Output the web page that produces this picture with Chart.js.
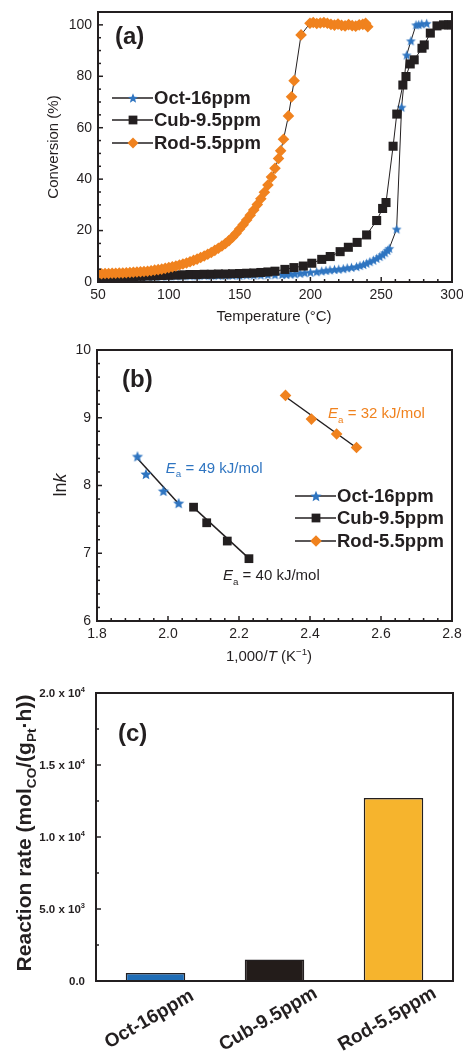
<!DOCTYPE html>
<html>
<head>
<meta charset="utf-8">
<script src="https://cdn.jsdelivr.net/npm/chart.js@4.4.1/dist/chart.umd.min.js"></script>
<style>
  html, body { margin: 0; padding: 0; background: #fff; }
  body { width: 463px; height: 1055px; position: relative; overflow: hidden; }
  .box { position: absolute; left: 0; width: 463px; }
</style>
</head>
<body>
<div class="box" style="top:0;height:330px"><canvas id="chartA"></canvas></div>
<div class="box" style="top:330px;height:335px"><canvas id="chartB"></canvas></div>
<div class="box" style="top:665px;height:390px"><canvas id="chartC"></canvas></div>
<script>
// ---- (a) light-off curves: temperature (°C) vs CO conversion (%)
const octT = [50, 55, 60, 65, 70, 75, 80, 85, 90, 95, 100, 105, 110, 115, 120, 125, 130, 135, 140, 145, 150, 155, 160, 165, 170, 175, 180,
  183, 186, 189, 192.7, 196, 200, 204.4, 208, 211, 213.8, 217, 220, 223.2, 226, 229, 232.6, 235, 237.5, 239.7, 242, 244.5, 246.8, 249, 251,
  252.7, 254.5, 255.7, 260.9, 264.4, 268, 271, 274.6, 276.5, 278.6, 282.1];
const octConv = [1.8, 1.8, 1.9, 1.9, 2.0, 2.0, 2.1, 2.1, 2.2, 2.2, 2.3, 2.3, 2.4, 2.4, 2.4, 2.5, 2.5, 2.5, 2.6, 2.6, 2.6, 2.7, 2.7, 2.7, 2.8, 2.8, 2.9,
  2.9, 3.1, 3.2, 3.4, 3.6, 3.8, 4.0, 4.3, 4.5, 4.7, 4.9, 5.0, 5.2, 5.5, 5.7, 6.0, 6.4, 6.8, 7.3, 7.9, 8.5, 9.2, 9.9, 10.6,
  11.4, 12.3, 13.1, 20.6, 68.0, 88.3, 93.8, 100.0, 100.1, 100.4, 100.6];

const cubT = [50, 55, 60, 65, 70, 75, 80, 85, 90, 95, 100, 105, 110, 115, 120, 125, 130, 135, 140, 145, 150, 155, 160, 165, 170, 175,
  182, 188.4, 195, 201, 208, 214, 221, 226.8, 233, 239.7, 246.8, 251, 253.4, 258.4, 261, 265.3, 267.5, 270.5, 273.3, 278.8, 280.4,
  284.7, 289.4, 294, 297.6, 300];
const cubConv = [1.6, 1.7, 1.8, 1.9, 2.0, 2.1, 2.2, 2.3, 2.4, 2.5, 2.6, 2.7, 2.8, 2.9, 2.9, 3.0, 3.0, 3.1, 3.1, 3.2, 3.3, 3.4, 3.5, 3.7, 3.9, 4.2,
  4.9, 5.6, 6.2, 7.3, 8.8, 9.9, 11.8, 13.5, 15.4, 18.3, 23.9, 28.6, 30.9, 52.8, 65.3, 76.6, 79.9, 84.8, 86.4, 90.9, 92.2,
  96.8, 99.6, 100, 100, 100];

const rodT = [50, 52.5, 55, 57.5, 60, 62.5, 65, 67.5, 70, 72.5, 75, 77.5, 80, 82.5, 85, 87.5, 90, 92.5, 95, 97.5, 100, 102.5, 105, 107.5,
  110, 112.5, 115, 117.5, 120, 122.5, 125, 127.5, 130, 132.5, 135, 137.5, 140, 142.5, 145, 147.5, 150, 152.5, 155, 157.5, 160, 162.5,
  165, 167.5, 170, 172.5, 175, 177.5, 179, 181, 184.5, 186.7, 188.5, 193.4, 199.7, 202, 204.5, 207, 209.5, 212, 214.5, 217, 219.5,
  222, 224.5, 227, 229.5, 232, 234.5, 237, 239, 240.5];
const rodConv = [3.2, 3.2, 3.3, 3.3, 3.4, 3.4, 3.5, 3.5, 3.6, 3.7, 3.8, 3.9, 4.0, 4.1, 4.2, 4.4, 4.6, 4.8, 5.0, 5.3, 5.6, 5.9, 6.2, 6.6,
  7.0, 7.4, 7.9, 8.4, 8.9, 9.5, 10.1, 10.8, 11.5, 12.3, 13.1, 14.0, 15.0, 16.1, 17.4, 18.9, 20.6, 22.3, 24.1, 26.0, 28.0, 30.1,
  32.4, 34.9, 37.7, 40.8, 44.2, 48.0, 51.0, 55.5, 64.6, 72.0, 78.3, 96.1, 100.6, 100.9, 100.5, 100.7, 100.9, 100.6, 100.2, 99.9, 100.3,
  99.8, 99.6, 100.1, 99.7, 99.5, 100.0, 100.2, 100.6, 99.3];

// ---- (b) Arrhenius plot: 1000/T vs ln k, with fitted lines
const octInvT = [1.914, 1.938, 1.987, 2.030];
const octLnK = [8.43, 8.17, 7.92, 7.74];
const cubInvT = [2.072, 2.109, 2.167, 2.228];
const cubLnK = [7.68, 7.45, 7.18, 6.92];
const rodInvT = [2.331, 2.404, 2.475, 2.531];
const rodLnK = [9.33, 8.98, 8.76, 8.56];
const octFitX = [1.914, 2.034], octFitY = [8.40, 7.71];
const cubFitX = [2.067, 2.231], cubFitY = [7.70, 6.91];
const rodFitX = [2.331, 2.533], rodFitY = [9.31, 8.55];
const eaLabels = ['49', '40', '32'];

// ---- (c) reaction rate
const samples = ['Oct-16ppm', 'Cub-9.5ppm', 'Rod-5.5ppm'];
const rates = [560, 1500, 12700];
const rateTicks = [0, 5000, 10000, 15000, 20000];
const rateTickText = [['0.0', ''], ['5.0 x 10', '3'], ['1.0 x 10', '4'], ['1.5 x 10', '4'], ['2.0 x 10', '4']];

const INK = '#231f20';
const BLUE = '#2f75c1';
const ORANGE = '#f0821e';
const FONT = '"Liberation Sans", Arial, Helvetica, sans-serif';
const barColors = ['#1f6db6', '#231c1a', '#f6b42d'];

Chart.defaults.font.family = FONT;
Chart.defaults.color = INK;

const pts = (xs, ys) => xs.map((x, i) => ({ x, y: ys[i] }));

function starPath(ctx, x, y, r) {
  const ri = r * 0.45;
  ctx.beginPath();
  for (let k = 0; k < 10; k++) {
    const rad = k % 2 ? ri : r;
    const ang = -Math.PI / 2 + k * Math.PI / 5;
    const px = x + rad * Math.cos(ang), py = y + rad * Math.sin(ang);
    if (k) ctx.lineTo(px, py); else ctx.moveTo(px, py);
  }
  ctx.closePath();
}

function makeStar(r, color) {
  const c = document.createElement('canvas');
  const size = Math.ceil(2 * r + 2);
  c.width = c.height = size;
  const g = c.getContext('2d');
  g.fillStyle = color;
  starPath(g, size / 2, size / 2 + r * 0.1, r);
  g.fill();
  return c;
}

function marker(ctx, kind, x, y, r, color) {
  ctx.save();
  ctx.fillStyle = color;
  if (kind === 'star') {
    starPath(ctx, x, y + r * 0.1, r);
    ctx.fill();
  } else if (kind === 'rect') {
    const h = r * Math.SQRT1_2;
    ctx.fillRect(x - h, y - h, 2 * h, 2 * h);
  } else {
    ctx.beginPath();
    ctx.moveTo(x, y - r); ctx.lineTo(x + r, y); ctx.lineTo(x, y + r); ctx.lineTo(x - r, y);
    ctx.closePath();
    ctx.fill();
  }
  ctx.restore();
}

// text with italic / sub / sup pieces; y is the middle of the capitals
function richText(ctx, segs, x, y, size, opts) {
  const o = Object.assign({ align: 'left', rot: 0, color: INK, bold: false }, opts);
  const parts = segs.map(sg => {
    const g = typeof sg === 'string' ? { t: sg } : sg;
    const fs = (g.sub || g.sup) ? size * 0.65 : size;
    const font = (g.italic ? 'italic ' : '') + (o.bold ? 'bold ' : '') + fs + 'px ' + FONT;
    ctx.font = font;
    return { t: g.t, font, w: ctx.measureText(g.t).width, dy: g.sub ? size * 0.28 : g.sup ? -size * 0.42 : 0 };
  });
  const total = parts.reduce((s, p) => s + p.w, 0);
  let cx = o.align === 'center' ? -total / 2 : o.align === 'right' ? -total : 0;
  ctx.save();
  ctx.translate(x, y);
  ctx.rotate(o.rot);
  ctx.fillStyle = o.color;
  ctx.textAlign = 'left';
  ctx.textBaseline = 'alphabetic';
  parts.forEach(p => {
    ctx.font = p.font;
    ctx.fillText(p.t, cx, size * 0.36 + p.dy);
    cx += p.w;
  });
  ctx.restore();
}

function drawFrame(chart) {
  const { ctx, chartArea: a } = chart;
  ctx.save();
  ctx.strokeStyle = INK;
  ctx.lineWidth = 2;
  ctx.strokeRect(a.left, a.top, a.right - a.left, a.bottom - a.top);
  ctx.restore();
}

// inward ticks, major and minor
function innerTicks(chart, id, major, minor) {
  const s = chart.scales[id], a = chart.chartArea, ctx = chart.ctx;
  const n = Math.round((s.max - s.min) / minor);
  ctx.save();
  ctx.strokeStyle = INK;
  ctx.lineWidth = 1.5;
  for (let i = 0; i <= n; i++) {
    const v = s.min + i * minor;
    const isMajor = Math.abs(v / major - Math.round(v / major)) < 1e-6;
    const len = isMajor ? 5 : 3;
    const p = s.getPixelForValue(v);
    ctx.beginPath();
    if (s.axis === 'y') { ctx.moveTo(a.left, p); ctx.lineTo(a.left + len, p); }
    else { ctx.moveTo(p, a.bottom); ctx.lineTo(p, a.bottom - len); }
    ctx.stroke();
  }
  ctx.restore();
}

function drawLegend(ctx, x0, rows, items) {
  items.forEach((it, i) => {
    const y = rows[i];
    ctx.save();
    ctx.strokeStyle = INK;
    ctx.lineWidth = 1.5;
    ctx.beginPath(); ctx.moveTo(x0, y); ctx.lineTo(x0 + 41, y); ctx.stroke();
    ctx.restore();
    marker(ctx, it.kind, x0 + 21, y, it.r, it.color);
    ctx.save();
    ctx.fillStyle = INK;
    ctx.font = 'bold 18.5px ' + FONT;
    ctx.textBaseline = 'middle';
    ctx.fillText(it.label, x0 + 42, y + 1);
    ctx.restore();
  });
}

const tickFont = { size: 14 };
const noGrid = { display: false, drawTicks: false, tickLength: 0 };

// ================= (a)
new Chart(document.getElementById('chartA'), {
  type: 'scatter',
  data: {
    datasets: [
      { label: samples[0], data: pts(octT, octConv), showLine: true, borderColor: INK, borderWidth: 1,
        pointStyle: makeStar(5.2, BLUE), pointRadius: 5.2, pointBorderWidth: 0, order: 2 },
      { label: samples[1], data: pts(cubT, cubConv), showLine: true, borderColor: INK, borderWidth: 1,
        pointStyle: 'rect', pointRadius: 6.4, pointBackgroundColor: INK, pointBorderWidth: 0, order: 1 },
      { label: samples[2], data: pts(rodT, rodConv), showLine: true, borderColor: INK, borderWidth: 1,
        pointStyle: 'rectRot', pointRadius: 5.8, pointBackgroundColor: ORANGE, pointBorderWidth: 0, order: 0 }
    ]
  },
  options: {
    responsive: true, maintainAspectRatio: false, animation: false,
    layout: { padding: { top: 12, right: 11, left: 0, bottom: 0 } },
    plugins: { legend: { display: false }, tooltip: { enabled: false } },
    scales: {
      x: {
        type: 'linear', min: 50, max: 300,
        grid: noGrid, border: { display: false },
        ticks: { stepSize: 50, padding: 5, font: tickFont, maxRotation: 0, includeBounds: false, color: INK },
        afterFit(s) { s.height = 48; s.paddingLeft = 0; s.paddingRight = 0; }
      },
      y: {
        min: 0, max: 105,
        grid: noGrid, border: { display: false },
        ticks: { stepSize: 20, padding: 6, font: tickFont, includeBounds: false, color: INK },
        afterFit(s) { s.width = 98; s.paddingTop = 0; s.paddingBottom = 0; }
      }
    }
  },
  plugins: [{
    id: 'decorA',
    afterDraw(chart) {
      const ctx = chart.ctx;
      drawFrame(chart);
      innerTicks(chart, 'x', 50, 10);
      innerTicks(chart, 'y', 20, 5);
      richText(ctx, ['(a)'], 115, 35, 24, { bold: true });
      richText(ctx, ['Conversion (%)'], 53, 147, 15, { align: 'center', rot: -Math.PI / 2 });
      richText(ctx, ['Temperature (°C)'], 274, 316, 15, { align: 'center' });
      drawLegend(ctx, 112, [98, 120, 143], [
        { label: samples[0], kind: 'star', r: 5.2, color: BLUE },
        { label: samples[1], kind: 'rect', r: 6.2, color: INK },
        { label: samples[2], kind: 'diamond', r: 5.5, color: ORANGE }
      ]);
    }
  }]
});

// ================= (b)
const fitStyle = { showLine: true, borderColor: INK, borderWidth: 1.5, pointRadius: 0 };
new Chart(document.getElementById('chartB'), {
  type: 'scatter',
  data: {
    datasets: [
      Object.assign({ data: pts(octFitX, octFitY), order: 5 }, fitStyle),
      Object.assign({ data: pts(cubFitX, cubFitY), order: 5 }, fitStyle),
      Object.assign({ data: pts(rodFitX, rodFitY), order: 5 }, fitStyle),
      { label: samples[0], data: pts(octInvT, octLnK), pointStyle: makeStar(5.8, BLUE), pointRadius: 5.8, pointBorderWidth: 0 },
      { label: samples[1], data: pts(cubInvT, cubLnK), pointStyle: 'rect', pointRadius: 6.2, pointBackgroundColor: INK, pointBorderWidth: 0 },
      { label: samples[2], data: pts(rodInvT, rodLnK), pointStyle: 'rectRot', pointRadius: 5.8, pointBackgroundColor: ORANGE, pointBorderWidth: 0 }
    ]
  },
  options: {
    responsive: true, maintainAspectRatio: false, animation: false,
    layout: { padding: { top: 20, right: 11, left: 0, bottom: 0 } },
    plugins: { legend: { display: false }, tooltip: { enabled: false } },
    scales: {
      x: {
        type: 'linear', min: 1.8, max: 2.8,
        grid: noGrid, border: { display: false },
        ticks: { stepSize: 0.2, padding: 5, font: tickFont, maxRotation: 0, color: INK, callback: v => v.toFixed(1) },
        afterFit(s) { s.height = 44; s.paddingLeft = 0; s.paddingRight = 0; }
      },
      y: {
        min: 6, max: 10,
        grid: noGrid, border: { display: false },
        ticks: { stepSize: 1, padding: 6, font: tickFont, color: INK },
        afterFit(s) { s.width = 97; s.paddingTop = 0; s.paddingBottom = 0; }
      }
    }
  },
  plugins: [{
    id: 'decorB',
    afterDraw(chart) {
      const ctx = chart.ctx, sx = chart.scales.x, sy = chart.scales.y;
      drawFrame(chart);
      innerTicks(chart, 'x', 0.2, 0.04);
      innerTicks(chart, 'y', 1, 0.2);
      richText(ctx, ['(b)'], 122, 48, 24, { bold: true });
      richText(ctx, ['ln', { t: 'k', italic: true }], 60, 155, 18, { align: 'center', rot: -Math.PI / 2 });
      richText(ctx, ['1,000/', { t: 'T', italic: true }, ' (K', { t: '\u22121', sup: true }, ')'], 269, 326, 15, { align: 'center' });
      const ea = (val) => [{ t: 'E', italic: true }, { t: 'a', sub: true }, ' = ' + val + ' kJ/mol'];
      richText(ctx, ea(eaLabels[0]), sx.getPixelForValue(1.994), sy.getPixelForValue(8.26), 15, { color: BLUE });
      richText(ctx, ea(eaLabels[1]), sx.getPixelForValue(2.155), sy.getPixelForValue(6.68), 15, { color: INK });
      richText(ctx, ea(eaLabels[2]), sx.getPixelForValue(2.451), sy.getPixelForValue(9.07), 15, { color: ORANGE });
      drawLegend(ctx, 295, [166, 188, 211], [
        { label: samples[0], kind: 'star', r: 5.8, color: BLUE },
        { label: samples[1], kind: 'rect', r: 6.2, color: INK },
        { label: samples[2], kind: 'diamond', r: 5.8, color: ORANGE }
      ]);
    }
  }]
});

// ================= (c)
new Chart(document.getElementById('chartC'), {
  type: 'bar',
  data: {
    labels: samples,
    datasets: [{
      data: rates,
      backgroundColor: barColors,
      borderColor: INK,
      borderWidth: 1.5,
      barPercentage: 0.5,
      categoryPercentage: 1
    }]
  },
  options: {
    responsive: true, maintainAspectRatio: false, animation: false,
    layout: { padding: { top: 28, right: 10, left: 0, bottom: 0 } },
    plugins: { legend: { display: false }, tooltip: { enabled: false } },
    scales: {
      x: {
        grid: noGrid, border: { display: false },
        ticks: { display: false },
        afterFit(s) { s.height = 74; s.paddingLeft = 0; s.paddingRight = 0; }
      },
      y: {
        min: 0, max: 20000,
        grid: noGrid, border: { display: false },
        ticks: { display: false, stepSize: 5000 },
        afterFit(s) { s.width = 96; s.paddingTop = 0; s.paddingBottom = 0; }
      }
    }
  },
  plugins: [{
    id: 'decorC',
    afterDraw(chart) {
      const ctx = chart.ctx, sx = chart.scales.x, sy = chart.scales.y, a = chart.chartArea;
      drawFrame(chart);
      innerTicks(chart, 'y', 5000, 2500);
      rateTicks.forEach((v, i) => {
        const [main, sup] = rateTickText[i];
        richText(ctx, [main, { t: sup, sup: true }], a.left - 11, sy.getPixelForValue(v), 11.5, { align: 'right', bold: true });
      });
      samples.forEach((lab, i) => {
        richText(ctx, [lab], sx.getPixelForValue(i) - 7, a.bottom + 37, 19, { align: 'center', bold: true, rot: -Math.PI / 6 });
      });
      richText(ctx, ['(c)'], 118, 67, 24, { bold: true });
      richText(ctx, ['Reaction rate (mol', { t: 'CO', sub: true }, '/(g', { t: 'Pt', sub: true }, '\u00b7h))'],
        23, 168, 21, { align: 'center', bold: true, rot: -Math.PI / 2 });
    }
  }]
});
</script>
</body>
</html>
